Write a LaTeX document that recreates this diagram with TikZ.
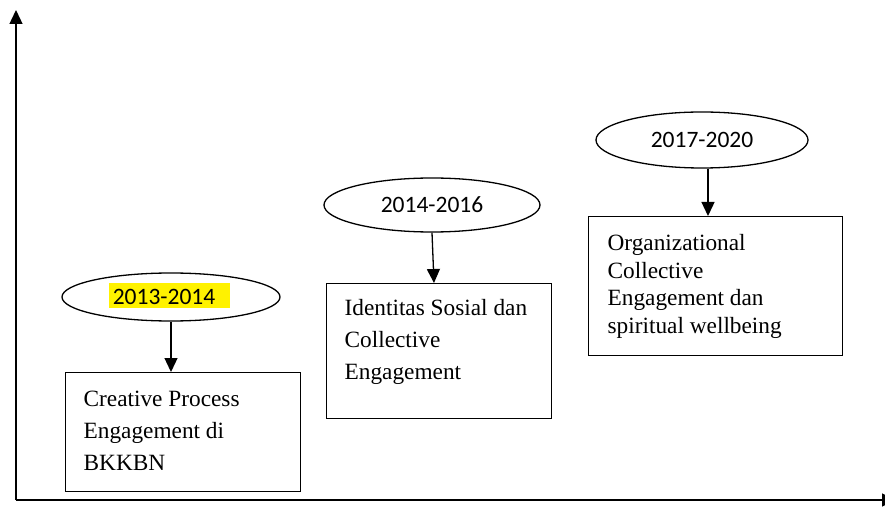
\documentclass[tikz,border=0pt]{standalone}
\usepackage{fontspec}
\setmainfont{Liberation Serif}
\newfontfamily\yearfont{Carlito}
\usetikzlibrary{arrows.meta,shapes.geometric}
\begin{document}
\begin{tikzpicture}[x=1pt,y=-1pt,
  line width=1.3pt,
  tip/.style={-{Triangle[length=14pt,width=13pt]}},
  yearell/.style={draw,ellipse,inner sep=0pt,font=\yearfont\fontsize{23.5}{26}\selectfont},
  stagebox/.style={draw,rectangle,anchor=north west,inner sep=0pt},
  stagetext/.style={anchor=north west,align=left,inner sep=0pt,font=\fontsize{23.3}{32}\selectfont}
]
\useasboundingbox (0,0) rectangle (885,510);
% axes
\coordinate (o) at (16,500);
\coordinate (ytop) at (16,10);
\coordinate (xend) at (896,500);
\draw[tip] (o) -- (ytop);
\draw[tip] (o) -- (xend);
% stage 1
\fill[yellow] (109,283) rectangle (230,308);
\node[yearell,minimum width=218pt,minimum height=48pt] (e1) at (171,297) {};
\node[font=\yearfont\fontsize{23.5}{26}\selectfont,inner sep=0pt] (y1) at (164,297) {2013-2014};
\node[stagebox,minimum width=235pt,minimum height=119pt] (b1) at (65,372) {};
\node[stagetext] (t1) at (83,390) {Creative Process\\Engagement di\\BKKBN};
\draw[tip] (e1.south) -- (e1.south |- b1.north);
% stage 2
\node[yearell,minimum width=216pt,minimum height=54pt] (e2) at (432,205) {2014-2016};
\node[stagebox,minimum width=225pt,minimum height=135pt] (b2) at (326,283) {};
\node[stagetext] (t2) at (344,299) {Identitas Sosial dan\\Collective\\Engagement};
\draw[tip] (e2.south) -- ([xshift=2pt]e2.south |- b2.north);
% stage 3
\node[yearell,minimum width=212pt,minimum height=56pt] (e3) at (702,140) {2017-2020};
\node[stagebox,minimum width=254pt,minimum height=139pt] (b3) at (588,216) {};
\node[stagetext,font=\fontsize{23.3}{27.5}\selectfont] (t3) at (607,234) {Organizational\\Collective\\Engagement dan\\spiritual wellbeing};
\draw[tip] ([xshift=6pt]e3.south) -- ([xshift=6pt]e3.south |- b3.north);
\end{tikzpicture}
\end{document}
